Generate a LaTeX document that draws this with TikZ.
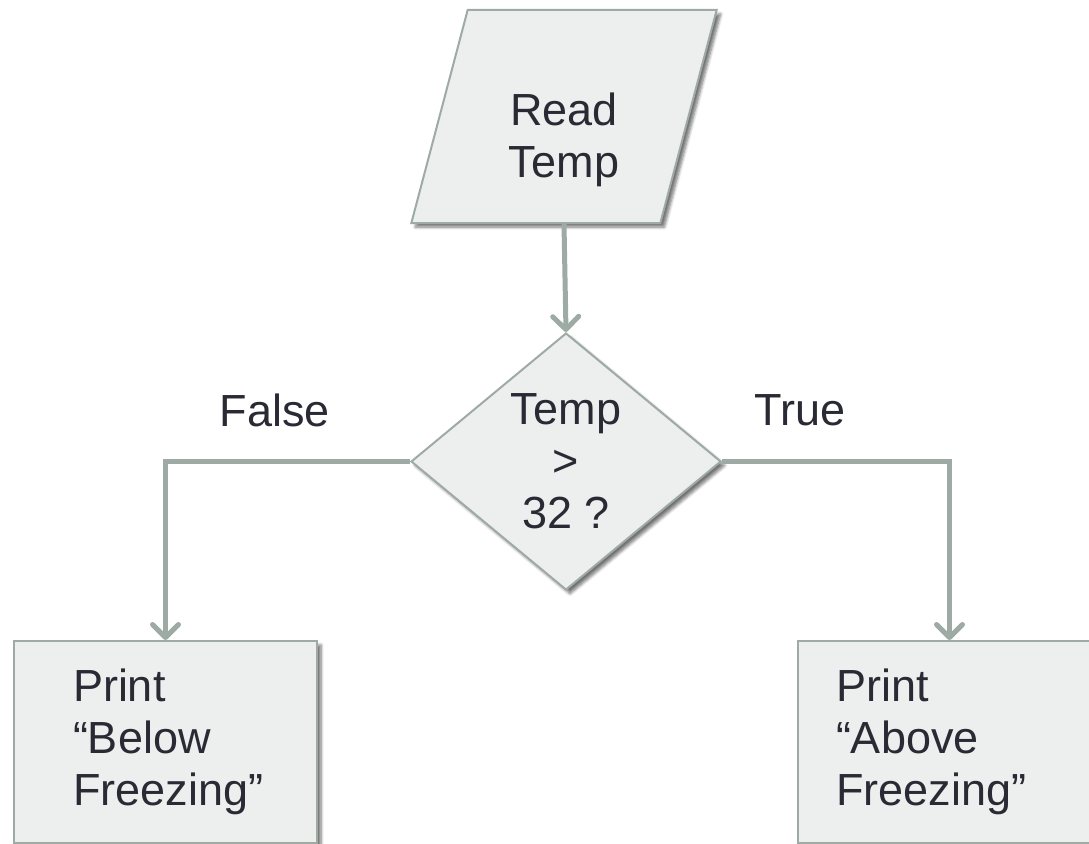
\documentclass[tikz,border=0pt]{standalone}
\usepackage{fontspec}
\setmainfont{Liberation Sans}
\usetikzlibrary{shapes.geometric,arrows.meta,shadows.blur,calc}
\definecolor{linec}{HTML}{9EABA4}
\definecolor{fillc}{HTML}{EDEEEE}
\definecolor{textc}{HTML}{2A2A35}
\hfuzz=100pt
\begin{document}
\begin{tikzpicture}[x=1pt,y=-1pt,
  every node/.style={font=\fontsize{45}{52}\selectfont, text=textc},
  shapebox/.style={draw=linec, line width=2pt, fill=fillc,
    blur shadow={shadow xshift=4pt, shadow yshift=-4pt, shadow blur steps=6, shadow blur radius=3pt, shadow opacity=55}},
  conn/.style={draw=linec, line width=5pt, line join=miter,
    -{Straight Barb[length=13pt,width=26pt,round]}},
  lbl/.style={inner sep=0pt}
]
\useasboundingbox (0,0) rectangle (1089,843);

\node[shapebox, trapezium, trapezium left angle=76, trapezium right angle=104,
  trapezium stretches=true, minimum width=306pt, minimum height=213pt,
  inner sep=0pt, align=center, text height=125pt, text depth=4pt] (read) at (564,116.5) {Read\\Temp};

\node[shapebox, diamond, minimum width=310pt, minimum height=257pt,
  inner sep=0pt, align=center] (dec) at (566,461.5) {Temp\\{>}\\32 ?};

\node[shapebox, rectangle, anchor=north west, minimum height=202pt,
  text width=185pt, inner xsep=59pt, align=left] (lbox) at (13,640)
  {Print\\“Below\\Freezing”};

\node[shapebox, rectangle, anchor=north west, minimum height=202pt,
  text width=227pt, inner xsep=38pt, align=left] (rbox) at (797,640)
  {Print\\“Above\\Freezing”};

\node[lbl] (false) at (275,410) {False};
\node[lbl] (true) at (800,410) {True};

\draw[conn] (read.center |- read.bottom side) -- (dec.north);
\draw[conn] (dec.west) -| (lbox.north);
\draw[conn] (dec.east) -| (rbox.north);
\end{tikzpicture}
\end{document}
